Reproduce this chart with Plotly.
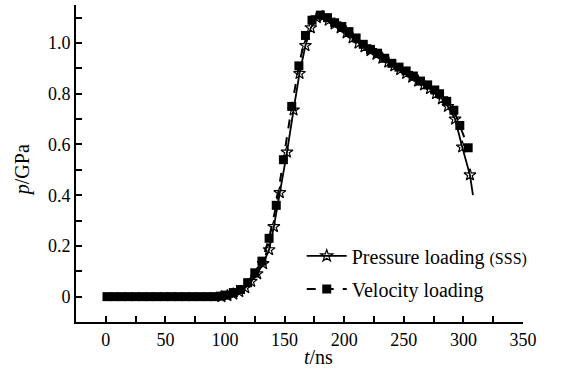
import plotly.graph_objects as go

# Pressure loading (SSS) - open stars
p_t = [97, 102, 107, 112, 117, 122, 127, 132, 137, 141, 146, 152, 157.5, 162.5, 167.5, 172, 177, 182,
       187, 192, 197, 202, 207, 212, 217, 222, 227, 232, 237, 242, 247, 252, 257, 262, 267, 272,
       277, 282, 287, 293, 299, 305.5]
p_val = [0.0, 0.004, 0.01, 0.02, 0.035, 0.06, 0.09, 0.13, 0.185, 0.276, 0.41, 0.57, 0.736, 0.88, 0.99, 1.06, 1.10, 1.105,
         1.09, 1.075, 1.06, 1.04, 1.02, 1.00, 0.985, 0.97, 0.955, 0.94, 0.925, 0.91, 0.895, 0.88, 0.865, 0.85, 0.835, 0.82,
         0.80, 0.78, 0.75, 0.70, 0.59, 0.48]
# end of the pressure curve (line only)
p_tail_t = [305.5, 308]
p_tail_val = [0.48, 0.40]

# Velocity loading - filled squares
v_t = [1, 7, 13, 19, 25, 31, 37, 43, 49, 55, 61, 67, 73, 79, 85, 91, 96, 101, 107, 113, 119, 125, 131, 137,
       143, 149, 156, 162, 167.5, 173, 180, 186, 192, 198, 204, 210, 216, 222, 228, 234, 240, 246, 252, 258,
       264, 270, 276, 280, 286, 292, 297, 304]
v_val = [0, 0, 0, 0, 0, 0, 0, 0, 0, 0, 0, 0, 0, 0, 0, 0, 0.002, 0.006, 0.016, 0.028, 0.055, 0.094, 0.14, 0.23,
         0.36, 0.54, 0.75, 0.91, 1.03, 1.09, 1.11, 1.10, 1.08, 1.065, 1.045, 1.02, 0.995, 0.975, 0.96, 0.94, 0.92, 0.905, 0.89, 0.87,
         0.85, 0.835, 0.815, 0.80, 0.77, 0.735, 0.675, 0.587]

x_tickvals = [0, 50, 100, 150, 200, 250, 300, 350]
y_tickvals = [0, 0.2, 0.4, 0.6, 0.8, 1.0]
y_ticktext = ["0", "0.2", "0.4", "0.6", "0.8", "1.0"]

TEXT_FONT = "Liberation Serif, Times New Roman, serif"

fig = go.Figure()
fig.add_trace(go.Scatter(
    x=p_t, y=p_val, mode="lines+markers",
    name="Pressure loading <span style='font-size:16px'>(SSS)</span>",
    line=dict(color="black", width=1.8),
    marker=dict(symbol="star-open", size=9, color="black", line=dict(width=1.2, color="black")),
    legendgroup="p",
))
fig.add_trace(go.Scatter(
    x=p_tail_t, y=p_tail_val, mode="lines", showlegend=False,
    line=dict(color="black", width=1.8),
))
fig.add_trace(go.Scatter(
    x=v_t, y=v_val, mode="lines+markers",
    name="Velocity loading",
    line=dict(color="black", width=2, dash="dash"),
    marker=dict(symbol="square", size=9, color="black"),
    legendgroup="v",
))

fig.update_layout(
    width=568, height=374,
    margin=dict(l=76, r=45, t=5, b=52),
    paper_bgcolor="white", plot_bgcolor="white",
    showlegend=True,
    legend=dict(x=0.505, y=0.27, xanchor="left", yanchor="top",
                bgcolor="rgba(0,0,0,0)", tracegroupgap=4,
                font=dict(family=TEXT_FONT, size=20, color="black"),
                itemwidth=40),
    font=dict(family=TEXT_FONT, size=18, color="black"),
)
fig.update_xaxes(
    range=[-25, 350], showgrid=False, zeroline=False,
    showline=True, linecolor="black", linewidth=2,
    tickvals=x_tickvals, ticks="inside", ticklen=6, tickwidth=1.5, tickcolor="black",
    minor=dict(dtick=25, tick0=0, ticks="inside", ticklen=6, tickwidth=1.5, tickcolor="black"),
    tickfont=dict(family=TEXT_FONT, size=18, color="black"),
)
fig.update_yaxes(
    range=[-0.1, 1.15], showgrid=False, zeroline=False,
    showline=True, linecolor="black", linewidth=2,
    tickvals=y_tickvals, ticktext=y_ticktext, ticks="inside", ticklen=6, tickwidth=1.5, tickcolor="black",
    minor=dict(dtick=0.1, tick0=0, ticks="inside", ticklen=6, tickwidth=1.5, tickcolor="black"),
    tickfont=dict(family=TEXT_FONT, size=18, color="black"),
)
fig.add_annotation(text="<i>t</i>/ns", xref="paper", yref="paper",
                   x=(318 - 76) / 447, y=-0.068, xanchor="center", yanchor="top",
                   showarrow=False, font=dict(family=TEXT_FONT, size=20, color="black"))
fig.add_annotation(text="<i>p</i>/GPa", xref="paper", yref="paper",
                   x=-0.12, y=0.48, xanchor="center", yanchor="middle", textangle=-90,
                   showarrow=False, font=dict(family=TEXT_FONT, size=20, color="black"))

fig.write_html("out.html")
